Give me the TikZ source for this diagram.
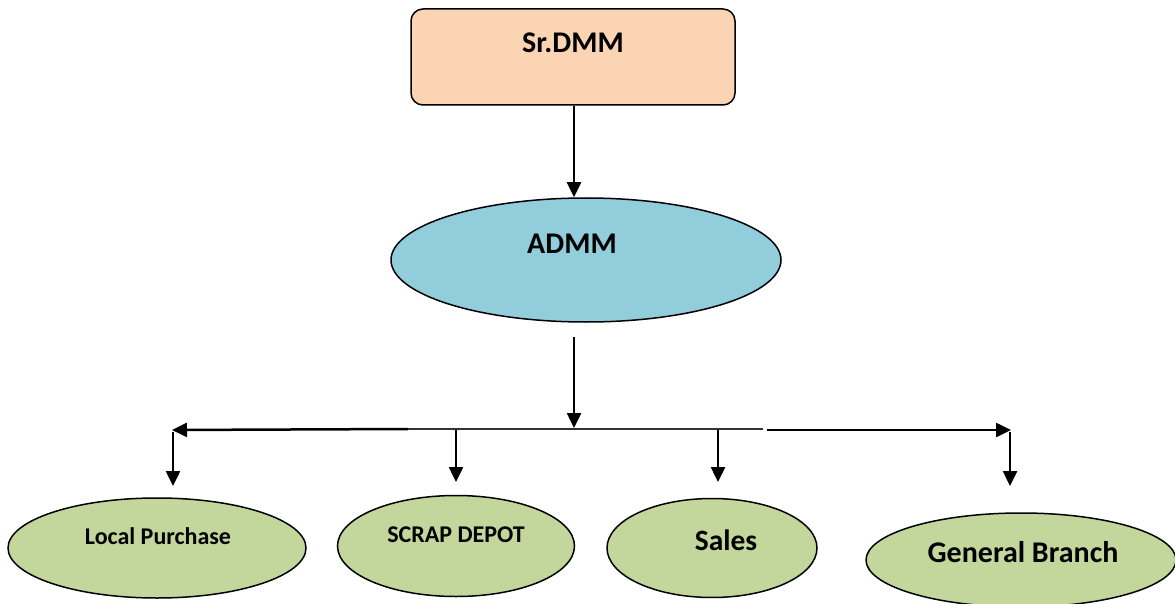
\documentclass[tikz,border=0pt]{standalone}
\usepackage{fontspec}
\setmainfont{Carlito}
\usetikzlibrary{shapes.geometric,arrows.meta}
\definecolor{peach}{HTML}{FBD4B4}
\definecolor{skyb}{HTML}{92CDDC}
\definecolor{olivg}{HTML}{C3D69B}
\tikzset{
  conn/.style={line width=2.5pt,-{Triangle[width=14pt,length=15pt]}},
  oval/.style={ellipse,draw=black,line width=1.5pt,fill=olivg,inner sep=0pt},
  lbl/.style={font=\bfseries,inner sep=0pt,anchor=base},
}
\begin{document}
\begin{tikzpicture}[x=1pt,y=-1pt]
\useasboundingbox (0,0) rectangle (1175,604);
% top box
\node[draw=black,line width=1.5pt,fill=peach,rounded corners=12pt,minimum width=324pt,minimum height=96pt,inner sep=0pt] (top) at (573,57) {};
\node[lbl,font=\fontsize{30}{34}\selectfont\bfseries] (topT) at (573,53) {Sr.DMM};
% ADMM
\node[ellipse,draw=black,line width=1.5pt,fill=skyb,minimum width=390pt,minimum height=124pt,inner sep=0pt] (ad) at (586,260) {};
\node[lbl,font=\fontsize{30}{34}\selectfont\bfseries] (adT) at (572,253) {ADMM};
\coordinate (adB) at (574,337);
\coordinate (hub) at (574,428);
\draw[conn] (top.south -| hub) -- (ad.north -| hub);
\draw[conn] (adB) -- (hub);
% horizontal bar
\coordinate (lEnd) at (172,430);
\coordinate (lMid) at (408,429);
\coordinate (rMid) at (763,429);
\coordinate (rStart) at (767,430);
\coordinate (rEnd) at (1011,430);
\draw[conn] (lMid) -- (lEnd);
\draw[line width=1.5pt,black!80] (lMid) -- (rMid);
\draw[conn] (rStart) -- (rEnd);
% bottom ellipses
\node[oval,minimum width=298pt,minimum height=100pt] (lp) at (157,548) {};
\node[oval,minimum width=237pt,minimum height=101pt] (sd) at (456,546) {};
\node[oval,minimum width=210pt,minimum height=99pt] (sa) at (712,548) {};
\node[oval,minimum width=310pt,minimum height=94pt] (gb) at (1021,560) {};
\node[lbl,font=\fontsize{24}{28}\selectfont\bfseries] (lpT) at (158,544) {Local Purchase};
\node[lbl,font=\fontsize{24}{28}\selectfont\bfseries] (sdT) at (456,542) {SCRAP DEPOT};
\node[lbl,font=\fontsize{29.5}{34}\selectfont\bfseries] (saT) at (726,550) {Sales};
\node[lbl,font=\fontsize{30}{34}\selectfont\bfseries] (gbT) at (1023,562) {General Branch};
% drops
\coordinate (d1) at (173,432);
\coordinate (d2) at (456,430);
\coordinate (d3) at (718,430);
\coordinate (d4) at (1010,432);
\draw[conn] (d1) -- (d1 |- 0,486);
\draw[conn] (d2) -- (d2 |- 0,482);
\draw[conn] (d3) -- (d3 |- 0,482);
\draw[conn] (d4) -- (d4 |- 0,486);
\end{tikzpicture}
\end{document}
